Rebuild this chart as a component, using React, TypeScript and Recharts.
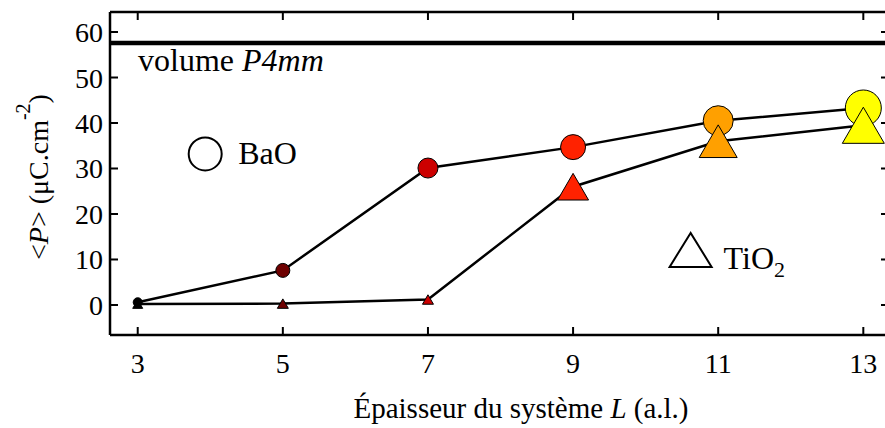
import { ComposedChart, Line, XAxis, YAxis, ReferenceLine, ReferenceDot } from "recharts";

// Layer thickness L (atomic layers)
const thickness = [3, 5, 7, 9, 11, 13];
// mean polarisation <P> in µC.cm^-2
const polBaO = [0.6, 7.6, 30.1, 34.7, 40.5, 43.3];
const polTiO2 = [0.2, 0.3, 1.2, 26.0, 36.0, 39.5];
const bulkP4mm = 57.6;

const xTicks = [3, 5, 7, 9, 11, 13];
const yTicks = [0, 10, 20, 30, 40, 50, 60];

// marker styling per thickness (colour ramps black -> red -> yellow)
const markerColors = ["#000000", "#6e0000", "#cc0000", "#ff2200", "#ffa000", "#ffff00"];
const circleR = [4.5, 7, 10, 12.5, 15, 18];
const triW = [10, 11, 11, 31, 38, 42];

const data = thickness.map((l, i) => ({ l, bao: polBaO[i], tio2: polTiO2[i] }));

const W = 890;
const H = 428;
const LEFT = 110;
const TOP = 12;
const BOTTOM = 335;
const RIGHT = 889;
const FONT = "'Liberation Serif', 'DejaVu Serif', serif";
const TICK = 8;

function coord(props: any, key: "x" | "y") {
  const c = props.payload?.coordinate;
  return typeof c === "number" ? c : props[key];
}

function LeftTick(props: any) {
  const y = coord(props, "y");
  return (
    <g>
      <line x1={LEFT} x2={LEFT + TICK} y1={y} y2={y} stroke="#000" strokeWidth={2} />
      <text x={LEFT - 7} y={y + 10} textAnchor="end" fontFamily={FONT} fontSize={28} fill="#000">
        {props.payload.value}
      </text>
    </g>
  );
}

function RightTick(props: any) {
  const y = coord(props, "y");
  return <line x1={RIGHT - TICK} x2={RIGHT} y1={y} y2={y} stroke="#000" strokeWidth={2} />;
}

function BottomTick(props: any) {
  const x = coord(props, "x");
  return (
    <g>
      <line x1={x} x2={x} y1={BOTTOM - TICK} y2={BOTTOM} stroke="#000" strokeWidth={2} />
      <text x={x} y={BOTTOM + 38} textAnchor="middle" fontFamily={FONT} fontSize={28} fill="#000">
        {props.payload.value}
      </text>
    </g>
  );
}

function TopTick(props: any) {
  const x = coord(props, "x");
  return <line x1={x} x2={x} y1={TOP} y2={TOP + TICK} stroke="#000" strokeWidth={2} />;
}

function CircleDot(props: any) {
  const { cx, cy, index } = props;
  if (cx == null || cy == null) return <g key={`c${index}`} />;
  return (
    <circle key={`c${index}`} cx={cx} cy={cy} r={circleR[index]} fill={markerColors[index]} stroke="#000" strokeWidth={1} />
  );
}

function TriDot(props: any) {
  const { cx, cy, index } = props;
  if (cx == null || cy == null) return <g key={`t${index}`} />;
  const w = triW[index] / 2;
  const h = triW[index] * 0.43;
  return (
    <polygon
      key={`t${index}`}
      points={`${cx},${cy - h} ${cx - w},${cy + h} ${cx + w},${cy + h}`}
      fill={markerColors[index]}
      stroke="#000"
      strokeWidth={1}
    />
  );
}

function BaoKey(props: any) {
  const { cx, cy } = props;
  return (
    <g>
      <circle cx={cx} cy={cy} r={16.5} fill="none" stroke="#000" strokeWidth={2} />
      <text x={cx + 33} y={cy + 10} fontFamily={FONT} fontSize={32} fill="#000">
        BaO
      </text>
    </g>
  );
}

function TioKey(props: any) {
  const { cx, cy } = props;
  return (
    <g>
      <polygon
        points={`${cx},${cy - 17} ${cx - 21},${cy + 17} ${cx + 21},${cy + 17}`}
        fill="none"
        stroke="#000"
        strokeWidth={2}
      />
      <text x={cx + 33} y={cy + 19} fontFamily={FONT} fontSize={32} fill="#000">
        TiO<tspan fontSize={22} dy={8}>2</tspan>
      </text>
    </g>
  );
}

function VolumeLabel(props: any) {
  const vb = props.viewBox || {};
  return (
    <text x={(vb.x ?? LEFT) + 28} y={(vb.y ?? 43) + 28} fontFamily={FONT} fontSize={32} fill="#000">
      volume <tspan fontStyle="italic">P4mm</tspan>
    </text>
  );
}

export default function App() {
  return (
    <div style={{ position: "absolute", left: 0, top: 0, width: 885, height: H, overflow: "hidden", background: "#fff" }}>
      <ComposedChart width={W} height={H} data={data} margin={{ top: 0, right: 0, bottom: 0, left: 0 }}>
        <XAxis
          xAxisId="bottom"
          dataKey="l"
          type="number"
          domain={[2.618, 13.354]}
          ticks={xTicks}
          height={H - BOTTOM}
          axisLine={{ stroke: "#000", strokeWidth: 2.5 }}
          tickLine={false}
          tick={<BottomTick />}
          allowDataOverflow
        />
        <XAxis
          xAxisId="top"
          orientation="top"
          dataKey="l"
          type="number"
          domain={[2.618, 13.354]}
          ticks={xTicks}
          height={TOP}
          axisLine={{ stroke: "#000", strokeWidth: 2.5 }}
          tickLine={false}
          tick={<TopTick />}
          allowDataOverflow
        />
        <YAxis
          yAxisId="left"
          type="number"
          domain={[-6.6, 64.4]}
          ticks={yTicks}
          width={LEFT}
          axisLine={{ stroke: "#000", strokeWidth: 2.5 }}
          tickLine={false}
          tick={<LeftTick />}
          allowDataOverflow
        />
        <YAxis
          yAxisId="right"
          orientation="right"
          type="number"
          domain={[-6.6, 64.4]}
          ticks={yTicks}
          width={W - RIGHT}
          axisLine={{ stroke: "#000", strokeWidth: 2.5 }}
          tickLine={false}
          tick={<RightTick />}
          allowDataOverflow
        />
        <ReferenceLine
          xAxisId="bottom"
          yAxisId="left"
          y={bulkP4mm}
          stroke="#000"
          strokeWidth={4.5}
          label={<VolumeLabel />}
        />
        <Line
          xAxisId="bottom"
          yAxisId="left"
          dataKey="bao"
          stroke="#000"
          strokeWidth={2.5}
          dot={CircleDot}
          activeDot={false}
          isAnimationActive={false}
        />
        <Line
          xAxisId="bottom"
          yAxisId="left"
          dataKey="tio2"
          stroke="#000"
          strokeWidth={2.5}
          dot={TriDot}
          activeDot={false}
          isAnimationActive={false}
        />
        <ReferenceDot xAxisId="bottom" yAxisId="left" x={3.93} y={33.2} r={16} shape={BaoKey} />
        <ReferenceDot xAxisId="bottom" yAxisId="left" x={10.62} y={12.1} r={17} shape={TioKey} />
      </ComposedChart>
      <svg width={885} height={H} style={{ position: "absolute", left: 0, top: 0, pointerEvents: "none" }}>
        <text
          transform="translate(48, 177) rotate(-90)"
          textAnchor="middle"
          fontFamily={FONT}
          fontSize={28}
          fill="#000"
        >
          &lt;<tspan fontStyle="italic">P</tspan>&gt; (μC.cm
          <tspan fontSize={20} dy={-18}>-2</tspan>
          <tspan dy={18}>)</tspan>
        </text>
        <text x={521} y={418} textAnchor="middle" fontFamily={FONT} fontSize={29} fill="#000">
          Épaisseur du système <tspan fontStyle="italic">L</tspan> (a.l.)
        </text>
      </svg>
    </div>
  );
}
